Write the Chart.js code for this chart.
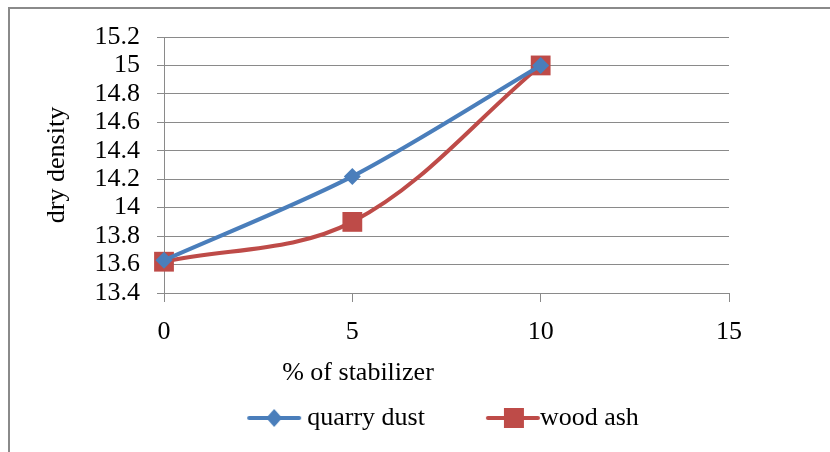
<!DOCTYPE html>
<html>
<head>
<meta charset="utf-8">
<script src="https://cdn.jsdelivr.net/npm/chart.js@4"></script>
<style>
  body { margin: 0; background: #fff; overflow: hidden; }
  #wrap { position: relative; width: 830px; height: 452px; }
  /* grey frame round the chart, cut off at the right and bottom */
  #frame { position: absolute; left: 8px; top: 7px; width: 900px; height: 500px;
           border-left: 2px solid #8a8a8a; border-top: 2px solid #8a8a8a; }
  #myChart { position: absolute; left: 0; top: 0; }
</style>
</head>
<body>
<div id="wrap">
  <div id="frame"></div>
  <canvas id="myChart" width="830" height="452"></canvas>
</div>
<script>
/* Data */
var stabilizer = [0, 5, 10];                 // % of stabilizer
var quarryDust = [13.63, 14.22, 15.0];
var woodAsh = [13.62, 13.9, 15.0];
var xTicks = [0, 5, 10, 15];
var yTicks = [13.4, 13.6, 13.8, 14, 14.2, 14.4, 14.6, 14.8, 15, 15.2];
var xTitle = '% of stabilizer';
var yTitle = 'dry density';

const BLUE = '#4A7EBB';
const RED = '#BE4B48';
const FONT = '"Liberation Serif", "Times New Roman", serif';

function toPoints(xs, ys) {
    return xs.map(function (x, i) { return { x: x, y: ys[i] }; });
}

// little line + marker picture used as the legend symbol
// (w = canvas width, x0/x1 = line ends, mx = marker centre)
function legendSymbol(color, shape, w, x0, x1, mx) {
    const c = document.createElement('canvas');
    c.width = w;
    c.height = 22;
    const g = c.getContext('2d');
    g.strokeStyle = color;
    g.lineWidth = 4;
    g.lineCap = 'round';
    g.beginPath();
    g.moveTo(x0, 11);
    g.lineTo(x1, 11);
    g.stroke();
    g.fillStyle = color;
    if (shape === 'rect') {
        g.fillRect(mx - 10, 1, 20, 20);
    } else {
        g.beginPath();
        g.moveTo(mx, 2);
        g.lineTo(mx + 8, 11);
        g.lineTo(mx, 20);
        g.lineTo(mx - 8, 11);
        g.closePath();
        g.fill();
    }
    return c;
}
const symbols = [
    legendSymbol(BLUE, 'diamond', 56, 3, 53, 28),
    legendSymbol(RED, 'rect', 68, 15, 65, 41)
];

// x axis title sits left of centre, under the 5 tick
const xTitlePlugin = {
    id: 'xTitle',
    afterDraw(chart) {
        const { ctx, chartArea } = chart;
        ctx.save();
        ctx.font = '26px ' + FONT;
        ctx.fillStyle = '#000';
        ctx.textAlign = 'center';
        ctx.textBaseline = 'middle';
        ctx.fillText(xTitle, chartArea.left + 194, chartArea.bottom + 80);
        ctx.restore();
    }
};

const ctx = document.getElementById('myChart');

var myChart = new Chart(ctx, {
    type: 'line',
    data: {
        datasets: [{
            label: 'quarry dust',
            data: toPoints(stabilizer, quarryDust),
            borderColor: BLUE,
            backgroundColor: BLUE,
            borderWidth: 4,
            pointStyle: 'rectRot',
            pointRadius: 8.5,
            pointBorderWidth: 0,
            tension: 0.3,
            clip: false
        }, {
            label: 'wood ash',
            data: toPoints(stabilizer, woodAsh),
            borderColor: RED,
            backgroundColor: RED,
            borderWidth: 4,
            pointStyle: 'rect',
            pointRadius: 14,
            pointBorderWidth: 0,
            tension: 0.35,
            clip: false
        }]
    },
    options: {
        responsive: false,
        devicePixelRatio: 1,
        animation: false,
        events: [],
        layout: {
            padding: { top: 37, right: 101, bottom: 11, left: 20 }
        },
        scales: {
            x: {
                type: 'linear',
                min: 0,
                max: 15,
                afterBuildTicks: function (scale) {
                    scale.ticks = xTicks.map(function (v) { return { value: v }; });
                },
                afterFit: function (scale) { scale.height = 50; },
                grid: {
                    drawOnChartArea: false,
                    drawTicks: true,
                    tickLength: 9,
                    color: '#8a8a8a'
                },
                border: { color: '#8a8a8a', width: 1 },
                ticks: {
                    padding: 15,
                    color: '#000',
                    font: { family: FONT, size: 26 }
                }
            },
            y: {
                min: 13.4,
                max: 15.2,
                afterBuildTicks: function (scale) {
                    scale.ticks = yTicks.map(function (v) { return { value: v }; });
                },
                afterFit: function (scale) { scale.width = 144; },
                grid: {
                    drawTicks: true,
                    tickLength: 7,
                    color: '#8a8a8a'
                },
                border: { color: '#8a8a8a', width: 1 },
                ticks: {
                    autoSkip: false,
                    padding: 17,
                    color: '#000',
                    font: { family: FONT, size: 26 },
                    callback: function (v) { return String(+v.toFixed(1)); }
                },
                title: {
                    display: true,
                    text: yTitle,
                    color: '#000',
                    padding: { top: 22 },
                    font: { family: FONT, size: 26 }
                }
            }
        },
        plugins: {
            legend: {
                position: 'bottom',
                fullSize: false,
                labels: {
                    usePointStyle: true,
                    pointStyleWidth: 40,
                    padding: 62,
                    color: '#000',
                    font: { family: FONT, size: 26 },
                    generateLabels: function (chart) {
                        const items = Chart.defaults.plugins.legend.labels.generateLabels(chart);
                        items.forEach(function (it, i) { it.pointStyle = symbols[i]; });
                        return items;
                    }
                }
            },
            tooltip: { enabled: false }
        }
    },
    plugins: [xTitlePlugin]
});
</script>
</body>
</html>
